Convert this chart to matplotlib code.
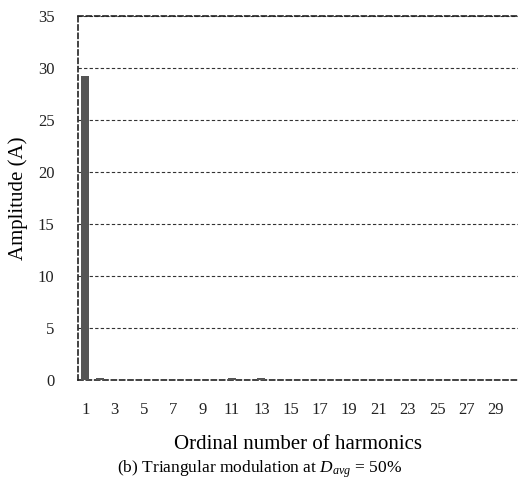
import numpy as np
import matplotlib
matplotlib.use("Agg")
import matplotlib.pyplot as plt

plt.rcParams['font.family'] = ['Liberation Serif', 'DejaVu Serif']
plt.rcParams['mathtext.fontset'] = 'custom'
plt.rcParams['mathtext.it'] = 'Liberation Serif:italic'
plt.rcParams['mathtext.rm'] = 'Liberation Serif'

# harmonic order and amplitude (A)
orders = list(range(1, 31))
amps = [29.2, 0.15, 0.02, 0.02, 0.02, 0.02, 0.02, 0.02, 0.02, 0.02,
        0.15, 0.02, 0.15, 0.02, 0.02, 0.02, 0.02, 0.02, 0.02, 0.02,
        0.02, 0.02, 0.02, 0.02, 0.02, 0.02, 0.02, 0.02, 0.02, 0.02]
tick_orders = list(range(1, 30, 2))

fig = plt.figure(figsize=(5.2, 4.8), dpi=100)
ax = fig.add_axes([0.15, 0.2083, 0.846, 0.7584])

x = np.arange(len(orders))
ax.bar(x, amps, width=0.55, color='#555555', zorder=3)

ax.set_xlim(-0.5, len(orders) - 0.5)
ax.set_ylim(0, 35)
ax.set_yticks(range(0, 36, 5))
ax.set_xticks([orders.index(o) for o in tick_orders])
ax.set_xticklabels([str(o) for o in tick_orders])
ax.tick_params(axis='both', length=0, labelsize=12, colors='#222222')
ax.tick_params(axis='x', pad=16)
ax.tick_params(axis='y', pad=17)

ax.yaxis.grid(True, linestyle=(0, (3, 2)), color='#333333', linewidth=0.8, zorder=0)
for side in ['top', 'left', 'bottom', 'right']:
    ax.spines[side].set_linestyle((0, (3, 2)))
    ax.spines[side].set_color('#222222')
    ax.spines[side].set_linewidth(1.2)
ax.spines['right'].set_visible(False)

ax.set_ylabel('Amplitude (A)', fontsize=15)
ax.yaxis.set_label_coords(-0.114, 0.5)
ax.set_xlabel('Ordinal number of harmonics', fontsize=15, labelpad=12)
fig.text(0.5, 0.016, r'(b) Triangular modulation at $D_{avg}$ = 50%',
         ha='center', fontsize=12.5)

fig.savefig('out.png', dpi=100)
